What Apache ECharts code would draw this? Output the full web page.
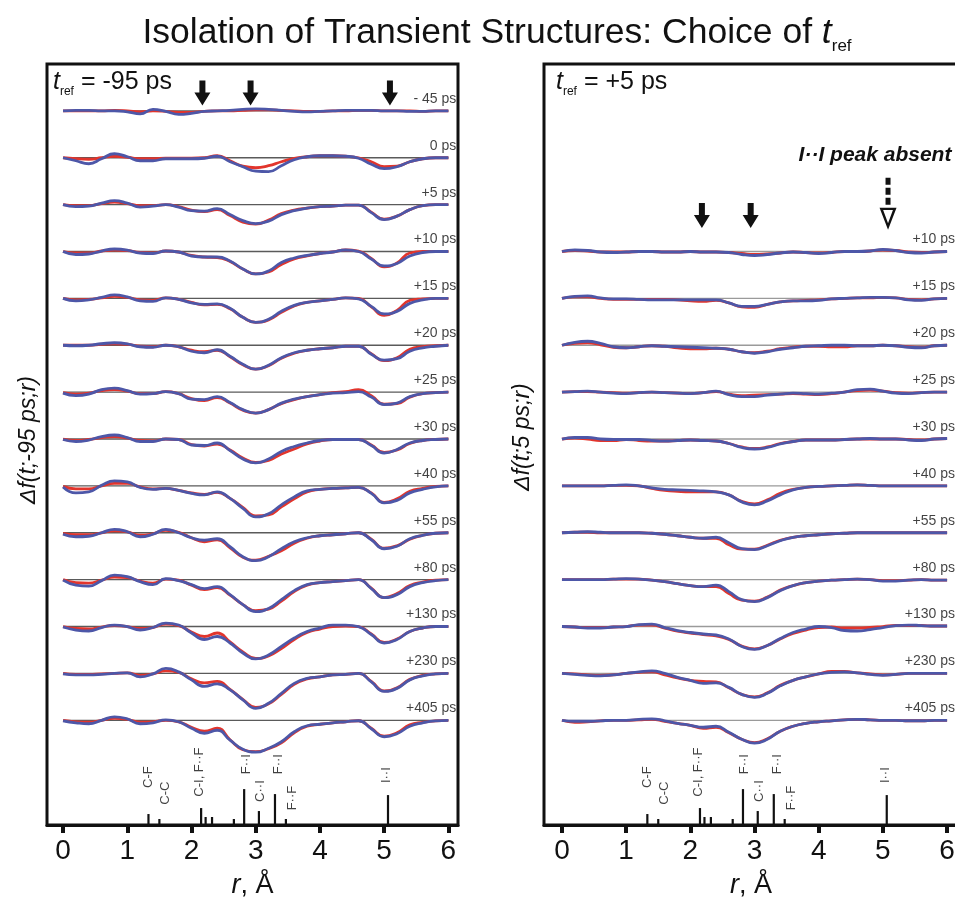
<!DOCTYPE html>
<html><head><meta charset="utf-8">
<script src="https://cdn.jsdelivr.net/npm/echarts@6/dist/echarts.min.js"></script>
<style>html,body{margin:0;padding:0;background:#fff}#c{width:955px;height:897px}</style>
</head><body><div id="c"></div>
<script>
// ---------- data ----------
const R_GRID = [0,0.2,0.4,0.6,0.8,1,1.2,1.4,1.6,1.8,2,2.2,2.4,2.6,2.8,3,3.2,3.4,3.6,3.8,4,4.2,4.4,4.6,4.8,5,5.2,5.4,5.6,5.8,6];
const xTicks = [0,1,2,3,4,5,6];
const leftTimes = ['- 45 ps','0 ps','+5 ps','+10 ps','+15 ps','+20 ps','+25 ps','+30 ps','+40 ps','+55 ps','+80 ps','+130 ps','+230 ps','+405 ps'];
const rightTimes = ['+10 ps','+15 ps','+20 ps','+25 ps','+30 ps','+40 ps','+55 ps','+80 ps','+130 ps','+230 ps','+405 ps'];

// left panel (t_ref = -95 ps)
const L_m45_blue = [0,0.5,0.5,0,0,-1,-3,1.5,-0.5,-3.5,-2.5,-0.5,0,0.5,1.5,2,1.5,0.5,-0.5,-1,-0.5,0,0.5,0.5,0.5,0,0,-0.5,-0.5,0,0];
const L_m45_red  = [0,0,0,0,0.5,0,-1,0,-0.5,-1.5,-1.5,-0.5,0,0,0.5,1,1,0.5,0,-0.5,-0.5,0,0,0.5,0.5,0,0,0,-0.5,0,0];
const L_0_blue   = [0,-3,-6,-1,4,1,-3,-3,-1,-1,-1,-0.5,1.5,-4,-9,-13.5,-14,-8,-2,1,2,2,1.5,-0.5,-6.5,-11,-9,-4,-1,0,0];
const L_0_red    = [0,-1,-1.5,0,1.5,0.5,-1,-1,-0.5,-0.5,-0.5,0,2,-3,-8.5,-10,-8,-4,-0.5,1,2,2,1.5,0,-4,-9,-8.5,-4,-1,0,0];
const L_5_blue   = [0,-2,-1.5,1.5,4,1.5,-2.5,-1.5,0,-2.5,-6,-6.5,-4,-10,-16,-19,-16.5,-10,-6,-3.5,-2,-1.5,-0.5,-0.5,-8,-15,-11.5,-5,-1,0,0];
const L_5_red    = [0,-1,-1,1,2.5,1,-1,-1,0,-2,-5.5,-7,-5,-11,-17.5,-19.5,-15.5,-9,-5.5,-3.5,-2,-1.5,-0.5,-0.5,-7.5,-14.5,-11.5,-5,-1,0,0];
const L_10_blue  = [0,-3,-2.5,0.5,2.5,1.5,-1.5,-2,0.5,-0.5,-4.5,-5.5,-5.5,-9.5,-17.5,-22.5,-19.5,-11,-6.5,-4,-2,-0.5,1.5,0,-7.5,-14.5,-12,-4.5,-1,0,0];
const L_10_red   = [0,-1.5,-1.5,0.5,1.5,1,-1,-1.5,0.5,-0.5,-4,-5.5,-6,-10,-17.5,-22.5,-20.5,-13,-7.5,-4.5,-2,-0.5,1.5,0.5,-7,-15.5,-11.5,-1.5,0,0,0];
const L_15_blue  = [0,-2.5,-1.5,1,3.5,1.5,-2.5,-3,0.5,-1,-4.5,-6,-5.5,-10,-19,-24,-21,-13,-7,-4,-2.5,-1,0.5,-0.5,-8,-15.5,-13,-5,-1.5,0,0];
const L_15_red   = [0,-1.5,-1,0.5,2,1,-1.5,-2,0.5,-1,-4,-6.5,-6,-10.5,-19,-24,-21.5,-14,-7.5,-4,-2.5,-1,0.5,0,-8.5,-17,-12,-2,-0.5,0,0];
const L_20_blue  = [0,-0.5,0,1.5,2.5,1.5,-1.5,-2,0,-1.5,-6,-7.5,-4.5,-11,-19,-24,-20,-12.5,-7.5,-5,-3.5,-2.5,-1,-1,-9,-15,-13.5,-6,-2.5,-1,0];
const L_20_red   = [0,0,0,1,1.5,1,-1,-1.5,0,-1.5,-5,-6.5,-5,-11.5,-19.5,-24,-20.5,-13,-8,-5,-3.5,-2.5,-1,-1,-8.5,-15.5,-12.5,-4,-1.5,-0.5,0];
const L_25_blue  = [-1,-3.5,-2,2.5,4,1.5,-2,-1.5,0.5,-1.5,-7,-7.5,-4.5,-10.5,-17.5,-21,-17.5,-11,-7,-4.5,-2.5,-1,-0.5,0.5,-5,-12.5,-11,-4.5,-1.5,-0.5,0];
const L_25_red   = [-0.5,-2,-1,1.5,2.5,1,-1.5,-1.5,0.5,-1.5,-6.5,-8.5,-5.5,-11,-18,-21,-17.5,-11.5,-7.5,-4.5,-2.5,-0.5,0.5,2.5,-3.5,-12,-11.5,-5,-1.5,-0.5,0];
const L_30_blue  = [-0.5,-2.5,-1,2.5,4,1.5,-2.5,-2.5,0,-0.5,-6,-6.5,-4,-11.5,-20,-24,-20,-12.5,-7.5,-4,-1.5,-0.5,-0.5,-0.5,-6.5,-14,-10.5,-4,-1.5,-0.5,0];
const L_30_red   = [0,-1.5,-0.5,1.5,2.5,1,-1.5,-2,0,-0.5,-5.5,-7,-5,-11,-19,-23.5,-21.5,-15,-10,-5,-2,-0.5,-0.5,-0.5,-6,-13.5,-11,-4.5,-1.5,-0.5,0];
const L_40_blue  = [-1,-7,-6,0.5,5,4,-1.5,-3.5,-2.5,-4.5,-7.5,-9,-6,-12.5,-22.5,-31,-28,-19,-11,-5,-3.5,-2.5,-2,-1.5,-7.5,-17,-14.5,-7,-3.5,-1,0];
const L_40_red   = [-0.5,-3,-3,0,2.5,2.5,-1,-3,-2.5,-4.5,-7,-8.5,-6.5,-12.5,-21.5,-30,-29,-21,-13,-6,-3.5,-2.5,-2,-1.5,-7,-16.5,-13,-5.5,-2.5,-0.5,0];
const L_55_blue  = [-1.5,-4,-3.5,0,3.5,1,-4,-1.5,3.5,0,-5,-7.5,-6,-14,-24,-28,-24,-16,-9,-5,-3,-2,-1,0,-7,-16,-13.5,-6,-2.5,-0.5,0];
const L_55_red   = [-0.5,-2,-2,0,2,1,-2.5,-1,2.5,0.5,-5,-9,-7,-15,-24.5,-27.5,-23.5,-18,-10.5,-5.5,-3,-2,-1,0,-6.5,-15.5,-13,-6.5,-2.5,-0.5,0];
const L_80_blue  = [-0.5,-5.5,-6.5,-1,4.5,3,-2,-5,1,-1,-5,-9,-7,-15,-25,-32,-29,-20,-11,-5,-3,-2,-1,0,-9,-18,-15,-7,-3,-1,0];
const L_80_red   = [0,-3,-3.5,-0.5,2.5,2,-1.5,-3.5,0.5,-0.5,-5.5,-10,-8,-15.5,-25,-31,-29.5,-21.5,-12,-5.5,-3,-2,-1,0,-8.5,-18,-14,-6,-2.5,-0.5,0];
const L_130_blue = [-0.5,-3.5,-4.5,-1,1.5,0,-3.5,-1,3.5,1.5,-6.5,-13,-10,-16.5,-26.5,-32.5,-28.5,-20,-11.5,-5,-1.5,1.5,1.5,0,-8,-16.5,-13,-5,-1.5,0,0];
const L_130_red  = [0,-2,-2.5,-0.5,1,0,-2,-1,2.5,1,-5.5,-10,-6.5,-15.5,-25.5,-32,-29.5,-22,-13,-6,-2.5,0,0.5,0,-7.5,-16,-12.5,-5,-1.5,0,0];
const L_230_blue = [-0.5,-1.5,-1.5,-1,0,0.5,-3.5,-0.5,5,1.5,-6.5,-13,-10.5,-16.5,-26.5,-35,-30,-20,-10,-5,-3.5,-1.5,-1,0,-8.5,-18,-15,-6.5,-2.5,-0.5,0];
const L_230_red  = [0,-1,-1,-0.5,0,0.5,-2,-0.5,2.5,1,-5.5,-9.5,-8,-16,-26,-34,-30.5,-21,-11,-5.5,-3.5,-1.5,-1,0,-8,-17.5,-14.5,-6,-2,-0.5,0];
const L_405_blue = [-0.5,-2.5,-3.5,0,3.5,1.5,-3.5,-2.5,0.5,-1.5,-8,-13,-10,-20,-29,-32,-28,-21.5,-11.5,-5.5,-4,-2.5,-1.5,-0.5,-8.5,-16.5,-13.5,-6,-2.5,-0.5,0];
const L_405_red  = [0,-1.5,-2,0,2,1,-2,-1.5,0,-1.5,-7,-11,-8,-19.5,-29.5,-31.5,-28.5,-22.5,-12.5,-6,-4,-2.5,-1.5,-0.5,-8,-16,-12.5,-4.5,-2,-0.5,0];

// right panel (t_ref = +5 ps)
const R_10_blue  = [0,1.5,1,-0.5,-1,-0.5,0,0,-0.5,-0.5,0,-0.5,-0.5,-1,-3,-4,-3,-1.5,-0.5,-1,-2,-1,0,0,0.5,2,1,-1,-1.5,-0.5,0];
const R_10_red   = [0,1,0.5,-0.5,-0.5,-0.5,0,0,-0.5,-0.5,0,-0.5,-0.5,-1,-2,-3,-2.5,-1.5,-0.5,-1,-1.5,-1,0,0,0.5,1.5,1,-0.5,-1,-0.5,0];
const R_15_blue  = [0,2,2.5,0.5,-0.5,-0.5,-1,-1.5,-1.5,-1.5,-1.5,-1.5,-1.5,-4.5,-8,-8,-6,-3.5,-2.5,-2.5,-2,-0.5,0,0.5,1,1,0.5,-1.5,-2,-0.5,0];
const R_15_red   = [0,1.5,1.5,0,-1,-1,-1,-1,-1,-1.5,-2.5,-3,-2,-4.5,-8.5,-9,-6,-3.5,-2.5,-2,-1.5,-0.5,0,0.5,0.5,1,0.5,-1,-1.5,-0.5,0];
const R_20_blue  = [0,3,4,2,-1.5,-2.5,-1.5,-0.5,-1,-1.5,-2,-2.5,-3,-4,-6.5,-8,-6.5,-4,-2.5,-1,-0.5,0,0,-0.5,-0.5,0,-0.5,-2,-2.5,-0.5,0];
const R_20_red   = [0,2,2.5,0.5,-2,-2.5,-1.5,-0.5,-1,-2.5,-3.5,-3.5,-3,-4,-6.5,-7.5,-6,-3.5,-2,-1,-1,-1.5,-1.5,-0.5,-0.5,0,-0.5,-1.5,-2,-0.5,0];
const R_25_blue  = [0,0.5,1,0,-1,-1.5,-0.5,0,-0.5,-1,-1.5,-0.5,1,-2.5,-4.5,-4.5,-3,-2,-1,-1.5,-2,-1,0,2.5,3,1,-1,-1.5,-0.5,0,0];
const R_25_red   = [0,0.5,0.5,0,-0.5,-1,-0.5,0,-0.5,-1,-1.5,-0.5,0.5,-2,-3.5,-3,-2.5,-2,-1.5,-2,-2.5,-1.5,0,1.5,2,1,-0.5,-1,-0.5,0,0];
const R_30_blue  = [0,1.5,1.5,0,-0.5,-0.5,-0.5,-1.5,-2,-1.5,-1,-1.5,-2,-4.5,-8.5,-10,-8.5,-5,-2.5,-1,-1,-1,-0.5,0,0.5,0,0,-1,-1.5,0,0.5];
const R_30_red   = [0,1,0,-1.5,-1.5,-0.5,-1.5,-2,-2,-1.5,-1,-1.5,-2,-4.5,-8,-9.5,-8,-4.5,-2.5,-1,-1,-1,-0.5,0,0,0,0,-0.5,-1,0,0.5];
const R_40_blue  = [0,0,0,0,0.5,1,0,-2,-3.5,-4,-4.5,-5,-6,-9,-16,-19,-15,-9,-4,-1.5,-0.5,0,0.5,1,0.5,0,0,0,0,0,0];
const R_40_red   = [0,0,0,0,0.5,0.5,0,-2.5,-4.5,-5.5,-6,-6,-6,-9,-15.5,-18,-14,-7.5,-3.5,-1.5,-0.5,0,0.5,1,0.5,0,0,0,0,0,0];
const R_55_blue  = [0,0.5,1,0.5,0,0,0,-0.5,-1.5,-3,-4.5,-5.5,-4.5,-10,-16,-17,-13,-8,-4.5,-3,-2,-1,-0.5,0,0,0,0,0,0,0,0];
const R_55_red   = [0,0.5,0.5,0,0,0,0,-0.5,-1.5,-3,-4.5,-5.5,-5.5,-12,-16.5,-16.5,-12.5,-7.5,-4.5,-3,-2,-1,-0.5,0,0,0,0,0,0,0,0];
const R_80_blue  = [0,0,0,0,0.5,1,0.5,-0.5,-2,-4,-6,-7,-5.5,-12,-20,-22,-18,-11,-6,-3,-1.5,-0.5,0,0.5,0,-1.5,-1.5,-0.5,0,-0.5,-0.5];
const R_80_red   = [0,0,0,0,0.5,0.5,0.5,-0.5,-2,-4,-6,-7,-7,-14,-20.5,-21.5,-17.5,-10.5,-6,-3,-1.5,-0.5,0,0.5,0,-1,-1,-0.5,0,-0.5,-0.5];
const R_130_blue = [0,-0.5,-1.5,-1.5,-0.5,0,2,2.5,-1,-4,-6,-7.5,-8.5,-12.5,-20,-23,-19,-12,-6,-2.5,0,-1,-4,-4.5,-3,-1,1,1.5,1,0.5,0.5];
const R_130_red  = [0,-0.5,-1,-1,-0.5,0,1.5,1.5,-1.5,-4.5,-6.5,-8,-9.5,-13,-19.5,-22.5,-19,-12.5,-7,-3.5,-1,-0.5,-1.5,-1.5,-1,0,1,1,1,0.5,0.5];
const R_230_blue = [0,-1,-2,-2.5,-1.5,0,1.5,2.5,0,-4,-7,-10,-9.5,-14,-21,-24,-20,-12.5,-7,-3.5,-0.5,1,1.5,0.5,-1,-2,-1,0,0,0,0];
const R_230_red  = [0,-0.5,-1.5,-2,-1.5,0,1,1.5,-1.5,-4.5,-7,-8,-8.5,-14.5,-21,-23.5,-19.5,-12,-7,-3.5,-0.5,2,2,0.5,-0.5,-1.5,-1,0,0,0,0];
const R_405_blue = [0,-1,-1,-0.5,0,0,1,1.5,-0.5,-3,-5,-7,-6,-12,-19,-23,-19,-11,-6,-3,-1.5,-0.5,0.5,1,0.5,0,0,-0.5,-0.5,0,0];
const R_405_red  = [0,-2,-1.5,-0.5,0,0,0.5,1,-1,-3,-5,-8,-7,-12.5,-19,-22.5,-18.5,-11,-6,-3,-1.5,-0.5,0.5,1,0.5,0,0,-0.5,-0.5,0,0];

// reference stick spectrum
const stickR = [1.33,1.50,2.15,2.22,2.32,2.66,2.82,3.05,3.30,3.47,5.06];
const stickH = [11,6,17,8,8,6,36,14,31,6,30];
const stickLabelText = ['C-F','C-C','C-I, F··F','F··I','C··I','F··I','F··F','I··I'];
const stickLabelR = [1.33,1.59,2.12,2.85,3.07,3.35,3.57,5.04];
const stickLabelH = [48,32,53,61,34,61,27,50];

// arrows (r positions)
const leftArrowR = [2.17,2.92,5.09];
const rightArrowR = [2.18,2.94];
const rightHollowArrowR = [5.08];

// ---------- build ----------
const leftBlue = [L_m45_blue,L_0_blue,L_5_blue,L_10_blue,L_15_blue,L_20_blue,L_25_blue,L_30_blue,L_40_blue,L_55_blue,L_80_blue,L_130_blue,L_230_blue,L_405_blue];
const leftRed  = [L_m45_red,L_0_red,L_5_red,L_10_red,L_15_red,L_20_red,L_25_red,L_30_red,L_40_red,L_55_red,L_80_red,L_130_red,L_230_red,L_405_red];
const rightBlue = [R_10_blue,R_15_blue,R_20_blue,R_25_blue,R_30_blue,R_40_blue,R_55_blue,R_80_blue,R_130_blue,R_230_blue,R_405_blue];
const rightRed  = [R_10_red,R_15_red,R_20_red,R_25_red,R_30_red,R_40_red,R_55_red,R_80_red,R_130_red,R_230_red,R_405_red];

const FONT = 'Liberation Sans, Arial, Helvetica, sans-serif';
const ROW = 47, Y_MIN = -716, Y_MAX = 47;
const BLUE = '#4d57a8', RED = '#e2352c', INK = '#111111';
const ARROW = 'path://M5,0L11,0L11,12L16,12L8,25L0,12L5,12Z';
const HOLLOW = 'path://M6,0L11,0L11,7L6,7Z M6,10L11,10L11,17L6,17Z M6,20L11,20L11,27L6,27Z M0,30L17,30L8.5,52Z M3.6,32.4L8.5,45.5L13.4,32.4Z';

const series = [];
function addPanel(g, rowStart, times, reds, blues, baseColor) {
  series.push({
    type:'custom', xAxisIndex:g, yAxisIndex:g, z:1, silent:true,
    data: times.map((t,k)=>[0, -(rowStart+k)*ROW]),
    renderItem:(p, api)=>{
      const a = api.coord([0, api.value(1)]), b = api.coord([6, api.value(1)]);
      return {type:'line', shape:{x1:a[0],y1:a[1],x2:b[0],y2:b[1]}, style:{stroke:baseColor, lineWidth:1.3}};
    }
  });
  reds.forEach((vals,k)=>{
    const base = -(rowStart+k)*ROW;
    series.push({type:'line', xAxisIndex:g, yAxisIndex:g, z:3, silent:true, smooth:0.5, symbol:'none',
      data: R_GRID.map((r,i)=>[r, base+vals[i]]), lineStyle:{color:RED, width:2.8}});
  });
  blues.forEach((vals,k)=>{
    const base = -(rowStart+k)*ROW;
    series.push({type:'line', xAxisIndex:g, yAxisIndex:g, z:4, silent:true, smooth:0.5, symbol:'none',
      data: R_GRID.map((r,i)=>[r, base+vals[i]]), lineStyle:{color:BLUE, width:2.8}});
  });
  // time labels
  series.push({type:'scatter', xAxisIndex:g, yAxisIndex:g, z:5, silent:true, symbolSize:1,
    itemStyle:{color:'rgba(0,0,0,0)'},
    data: times.map((t,k)=>({value:[6.13, -(rowStart+k)*ROW + 12], label:{formatter:t}})),
    label:{show:true, position:'left', distance:0, fontSize:14, color:INK, fontFamily:FONT}});
  // sticks
  series.push({type:'custom', xAxisIndex:g, yAxisIndex:g, z:2, silent:true,
    data: stickR.map((r,i)=>[r, stickH[i]]),
    renderItem:(p, api)=>{
      const a = api.coord([api.value(0), Y_MIN]), b = api.coord([api.value(0), Y_MIN + api.value(1)]);
      return {type:'line', shape:{x1:a[0],y1:a[1],x2:b[0],y2:b[1]}, style:{stroke:INK, lineWidth:2.2}};
    }});
  series.push({type:'scatter', xAxisIndex:g, yAxisIndex:g, z:5, silent:true, symbolSize:1,
    itemStyle:{color:'rgba(0,0,0,0)'},
    data: stickLabelR.map((r,i)=>({value:[r, Y_MIN + stickLabelH[i]], label:{formatter:stickLabelText[i]}})),
    label:{show:true, position:'inside', rotate:90, fontSize:13, color:INK, fontFamily:FONT}});
}
addPanel(0, 0, leftTimes, leftRed, leftBlue, '#5a5a5a');
addPanel(1, 3, rightTimes, rightRed, rightBlue, '#9a9a9a');

series.push({type:'scatter', xAxisIndex:0, yAxisIndex:0, z:6, silent:true, symbol:ARROW, symbolSize:[16,25],
  itemStyle:{color:INK, opacity:1}, data: leftArrowR.map(r=>[r, 18])});
series.push({type:'scatter', xAxisIndex:1, yAxisIndex:1, z:6, silent:true, symbol:ARROW, symbolSize:[16,25],
  itemStyle:{color:INK, opacity:1}, data: rightArrowR.map(r=>[r, -105])});
series.push({type:'scatter', xAxisIndex:1, yAxisIndex:1, z:6, silent:true, symbol:HOLLOW, symbolSize:[17,52],
  itemStyle:{color:INK, opacity:1}, data: rightHollowArrowR.map(r=>[r, -93])});

function xAxis(g, min, max) {
  return {gridIndex:g, type:'value', min:min, max:max,
    axisLine:{show:true, onZero:false, lineStyle:{color:INK, width:3}},
    axisTick:{show:true, customValues:xTicks, length:8, lineStyle:{color:INK, width:4}},
    axisLabel:{customValues:xTicks, fontSize:28, margin:12, color:INK, fontFamily:FONT},
    splitLine:{show:false},
    name:'{i|r}, Å', nameLocation:'middle', nameGap:47,
    nameTextStyle:{fontSize:27, color:INK, fontFamily:FONT, rich:{i:{fontStyle:'italic', fontSize:27, color:INK, fontFamily:FONT}}}};
}
function yAxis(g) {
  return {gridIndex:g, type:'value', min:Y_MIN, max:Y_MAX, show:false, splitLine:{show:false}};
}

const chart = echarts.init(document.getElementById('c'), null, {renderer:'canvas'});
chart.setOption({
  animation:false,
  backgroundColor:'#fff',
  grid:[
    {left:47, top:64, width:411, height:761, show:true, borderColor:INK, borderWidth:3, outerBoundsMode:'none', containLabel:false},
    {left:544, top:64, width:414, height:761, show:true, borderColor:INK, borderWidth:3, outerBoundsMode:'none', containLabel:false}
  ],
  xAxis:[xAxis(0,-0.25,6.15), xAxis(1,-0.28,6.17)],
  yAxis:[yAxis(0), yAxis(1)],
  series: series,
  graphic:[
    {type:'text', x:497, y:33, style:{text:'{n|Isolation of Transient Structures: Choice of }{t|t}{s|ref}',
      align:'center', verticalAlign:'middle', textAlign:'center', textVerticalAlign:'middle', fill:INK,
      rich:{n:{fontSize:35.5, fontFamily:FONT, lineHeight:44, verticalAlign:'middle', fill:INK},
            t:{fontSize:35.5, fontFamily:FONT, fontStyle:'italic', lineHeight:44, verticalAlign:'middle', fill:INK},
            s:{fontSize:17, fontFamily:FONT, lineHeight:16, verticalAlign:'bottom', fill:INK}}}},
    {type:'text', x:53, y:82, style:{text:'{t|t}{s|ref}{n| = -95 ps}',
      align:'left', verticalAlign:'middle', textAlign:'left', textVerticalAlign:'middle', fill:INK,
      rich:{n:{fontSize:25, fontFamily:FONT, lineHeight:32, verticalAlign:'middle', fill:INK},
            t:{fontSize:25, fontFamily:FONT, fontStyle:'italic', lineHeight:32, verticalAlign:'middle', fill:INK},
            s:{fontSize:12, fontFamily:FONT, lineHeight:11, verticalAlign:'bottom', fill:INK}}}},
    {type:'text', x:556, y:82, style:{text:'{t|t}{s|ref}{n| = +5 ps}',
      align:'left', verticalAlign:'middle', textAlign:'left', textVerticalAlign:'middle', fill:INK,
      rich:{n:{fontSize:25, fontFamily:FONT, lineHeight:32, verticalAlign:'middle', fill:INK},
            t:{fontSize:25, fontFamily:FONT, fontStyle:'italic', lineHeight:32, verticalAlign:'middle', fill:INK},
            s:{fontSize:12, fontFamily:FONT, lineHeight:11, verticalAlign:'bottom', fill:INK}}}},
    {type:'text', x:875, y:155, style:{text:'I··I peak absent', font:'italic bold 21px ' + FONT, fill:INK,
      align:'center', verticalAlign:'middle', textAlign:'center', textVerticalAlign:'middle'}},
    {type:'text', x:29, y:440, rotation:Math.PI/2, style:{text:'Δf(t;-95 ps;r)', font:'italic 23px ' + FONT, fill:INK,
      align:'center', verticalAlign:'middle', textAlign:'center', textVerticalAlign:'middle'}},
    {type:'text', x:523, y:437, rotation:Math.PI/2, style:{text:'Δf(t;5 ps;r)', font:'italic 23px ' + FONT, fill:INK,
      align:'center', verticalAlign:'middle', textAlign:'center', textVerticalAlign:'middle'}}
  ]
});
</script>
</body></html>
